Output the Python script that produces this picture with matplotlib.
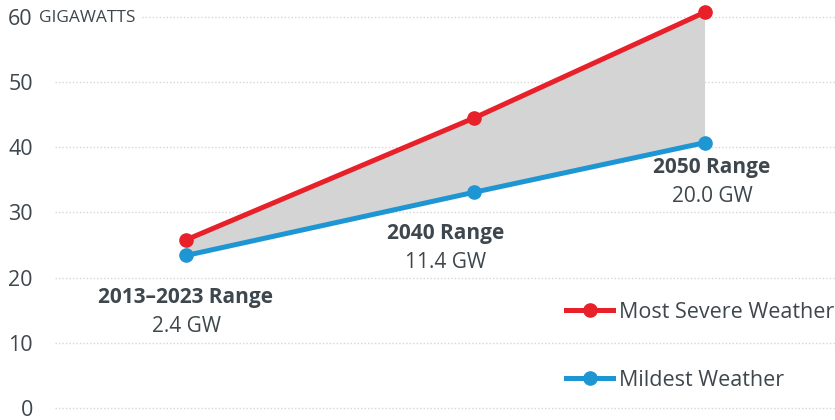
import numpy as np
import matplotlib.pyplot as plt

plt.rcParams['font.family'] = ['Open Sans', 'DejaVu Sans']

# data
periods = ['2013\u20132023', '2040', '2050']
severe = [25.8, 44.5, 60.7]
mildest = [23.4, 33.1, 40.7]
x_pos = [0, 1, 1.8]

red = '#e8202a'
blue = '#1f96d4'
txt = '#3d474d'

fig = plt.figure(figsize=(8.35, 4.2), dpi=100)
ax = fig.add_axes([55/835, 0, 780/835, 1])

ax.fill_between(x_pos, mildest, severe, color='#d4d4d4', zorder=1, lw=0)
ax.plot(x_pos, severe, color=red, lw=3.6, marker='o', ms=9.5, label='Most Severe Weather', zorder=3)
ax.plot(x_pos, mildest, color=blue, lw=3.6, marker='o', ms=9.5, label='Mildest Weather', zorder=3)

ax.set_xlim(-0.455, 2.253)
ax.set_ylim(-1.84, 62.6)
ax.set_yticks(np.arange(0, 61, 10))
ax.set_yticklabels(['0', '10', '20', '30', '40', '50', '60'])
ax.set_xticks([])
ax.tick_params(axis='y', length=0, pad=16, labelsize=15.5, labelcolor=txt)
ax.grid(axis='y', linestyle=(0, (1, 1.5)), color='#d6d6d6', lw=1)
ax.set_axisbelow(True)
for s in ax.spines.values():
    s.set_visible(False)

fig.text(39/835, 1 - 18/420, 'GIGAWATTS', fontsize=12.5, color=txt, ha='left', va='center',
         bbox=dict(facecolor='white', edgecolor='none', pad=3))

# range annotations
ranges = [r - m for r, m in zip(severe, mildest)]
label_xy = [(186, 298), (446, 234), (712, 168)]
for p, r, (px, py) in zip(periods, ranges, label_xy):
    fig.text(px/835, 1 - py/420, p + ' Range', fontsize=15, fontweight='bold', color=txt,
             ha='center', va='center')
    fig.text(px/835, 1 - (py + 29)/420, '%.1f GW' % r, fontsize=15, color=txt,
             ha='center', va='center')

ax.legend(loc='upper left', bbox_to_anchor=(566/835, 1 - 302/420), bbox_transform=fig.transFigure,
          frameon=False, fontsize=15.5, labelcolor=txt, handlelength=2.2, handletextpad=0.25,
          labelspacing=2.18, borderpad=0, borderaxespad=0, numpoints=1)

fig.savefig('out.png', dpi=100)
